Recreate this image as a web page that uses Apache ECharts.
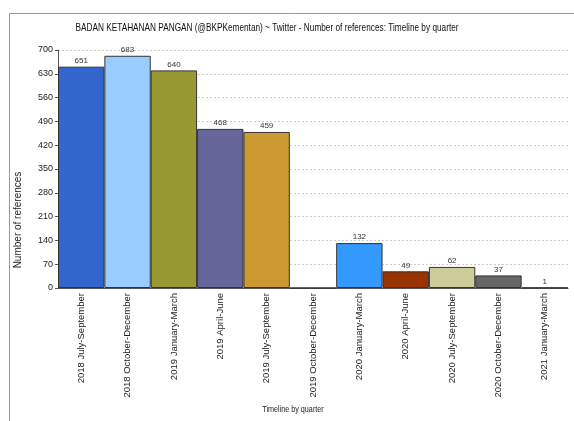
<!DOCTYPE html>
<html>
<head>
<meta charset="utf-8">
<script src="https://cdn.jsdelivr.net/npm/echarts@6/dist/echarts.min.js"></script>
<style>
html, body { margin: 0; padding: 0; background: #fff; }
#chart { width: 574px; height: 421px; }
</style>
</head>
<body>
<div id="chart"></div>
<script>
// quarters and reference counts
var quarters = [
    '2018 July-September', '2018 October-December', '2019 January-March',
    '2019 April-June', '2019 July-September', '2019 October-December',
    '2020 January-March', '2020 April-June', '2020 July-September',
    '2020 October-December', '2021 January-March'
];
var counts = [651, 683, 640, 468, 459, 0, 132, 49, 62, 37, 1];
var barColors = ['#3366CC', '#99CCFF', '#999933', '#666699', '#CC9933', '#FFFFFF',
    '#3399FF', '#993300', '#CCCC99', '#666666', '#CC6633'];

var font = '"Liberation Sans", Arial, sans-serif';

var barData = [];
for (var i = 0; i < counts.length; i++) {
    barData.push({
        value: counts[i],
        itemStyle: { color: barColors[i] }
    });
}

var myChart = echarts.init(document.getElementById('chart'));
var option = {
    animation: false,
    graphic: [
        {
            type: 'rect',
            shape: { x: 9.5, y: 13.5, width: 600, height: 500 },
            style: { fill: 'none', stroke: '#999', lineWidth: 1 },
            silent: true
        },
        // title, squeezed horizontally like the reference
        {
            type: 'text',
            x: 267, y: 28,
            scaleX: 0.75,
            style: {
                text: 'BADAN KETAHANAN PANGAN (@BKPKementan) ~ Twitter - Number of references: Timeline by quarter',
                fill: '#111', font: '11px ' + font, align: 'center', verticalAlign: 'middle'
            }
        },
        {
            type: 'text',
            x: 18, y: 220,
            rotation: Math.PI / 2,
            style: {
                text: 'Number of references', fill: '#222',
                font: '10px ' + font, align: 'center', verticalAlign: 'middle'
            }
        },
        {
            type: 'text',
            x: 293, y: 410,
            scaleX: 0.8,
            style: {
                text: 'Timeline by quarter', fill: '#222',
                font: '9px ' + font, align: 'center', verticalAlign: 'middle'
            }
        }
    ],
    grid: { left: 58, top: 50, right: 6, bottom: 133 },
    xAxis: {
        type: 'category',
        data: quarters,
        axisLine: { lineStyle: { color: '#555' } },
        axisTick: { show: false },
        axisLabel: {
            rotate: 90, interval: 0, margin: 5,
            fontFamily: font, fontSize: 9.5, color: '#222'
        }
    },
    yAxis: {
        type: 'value',
        min: 0, max: 700, interval: 70,
        axisLine: { show: true, lineStyle: { color: '#555' } },
        axisTick: { show: true, length: 3, lineStyle: { color: '#555' } },
        axisLabel: { fontFamily: font, fontSize: 9, color: '#222', margin: 5 },
        splitLine: { lineStyle: { color: '#ccc', type: [2, 2] } }
    },
    series: [{
        type: 'bar',
        data: barData,
        barCategoryGap: 0,
        itemStyle: { borderColor: '#333', borderWidth: 1 },
        label: {
            show: true, position: 'top', distance: 2,
            fontFamily: font, fontSize: 8, color: '#333',
            formatter: function (p) { return p.value === 0 ? '' : p.value; }
        }
    }]
};
myChart.setOption(option);
</script>
</body>
</html>
